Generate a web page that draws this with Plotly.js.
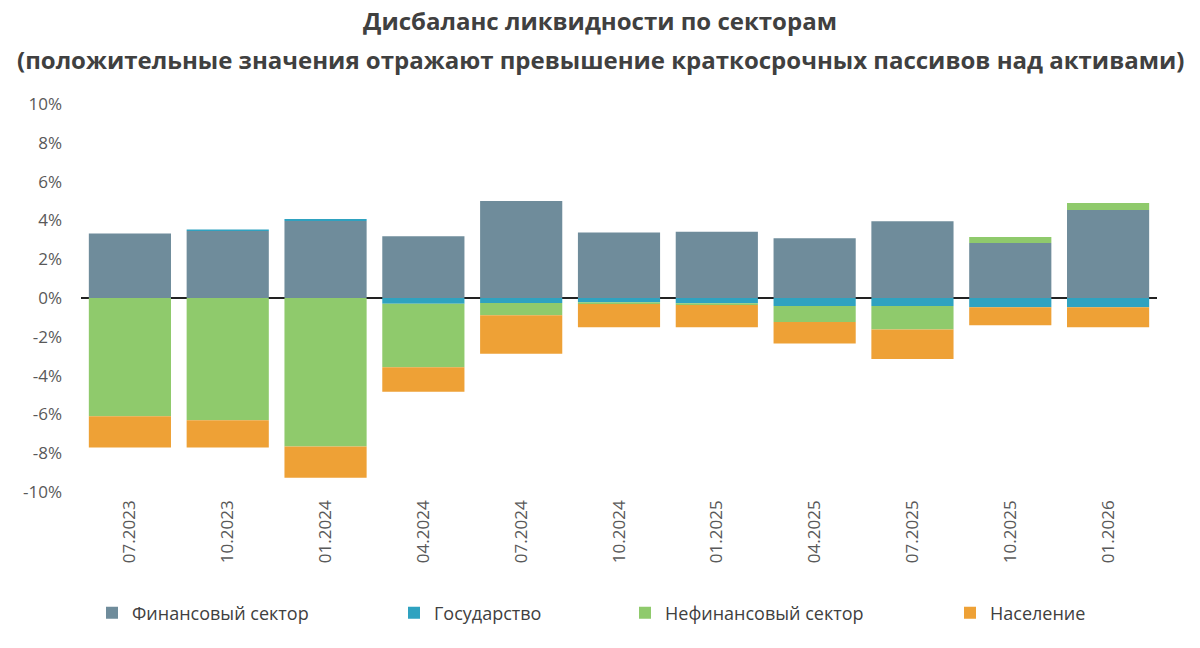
<!DOCTYPE html>
<html><head><meta charset="utf-8">
<script src="https://cdn.plot.ly/plotly-3.0.1.min.js"></script>
<style>html,body{margin:0;padding:0;background:#fff}#chart{width:1200px;height:648px}</style>
</head><body><div id="chart"></div>
<script>
const categories = ["07.2023","10.2023","01.2024","04.2024","07.2024","10.2024","01.2025","04.2025","07.2025","10.2025","01.2026"];
const financial = [3.32, 3.45, 3.97, 3.18, 5.0, 3.37, 3.42, 3.08, 3.95, 2.84, 4.54];
const government = [0.0, 0.08, 0.10, -0.29, -0.26, -0.22, -0.27, -0.41, -0.41, -0.48, -0.48];
const nonfinancial = [-6.1, -6.3, -7.66, -3.28, -0.63, -0.09, -0.09, -0.83, -1.22, 0.30, 0.36];
const households = [-1.6, -1.4, -1.6, -1.26, -1.98, -1.2, -1.15, -1.1, -1.51, -0.93, -1.03];
const yTickVals = [-10,-8,-6,-4,-2,0,2,4,6,8,10];
const yTickText = ["-10%","-8%","-6%","-4%","-2%","0%","2%","4%","6%","8%","10%"];
const names = ["Финансовый сектор","Государство","Нефинансовый сектор","Население"];
const colors = ["#6f8c9b","#2fa2c0","#8fca6c","#eea136"];
const series = [financial, government, nonfinancial, households];
const titleLine1 = "Дисбаланс ликвидности по секторам";
const titleLine2 = "(положительные значения отражают превышение краткосрочных пассивов над активами)";

const legendIds = ["legend","legend2","legend3","legend4"];
const legendX = [92, 394, 625, 950];

const traces = series.map((v,i)=>({
  type:"bar", x:categories, y:v, name:names[i], legend:legendIds[i],
  marker:{color:colors[i], line:{width:0}},
  hoverinfo:"x+y+name"
}));

const layout = {
  width:1200, height:648,
  paper_bgcolor:"#fff", plot_bgcolor:"#fff",
  barmode:"relative", bargap:0.16,
  font:{family:"Open Sans, sans-serif", color:"#595959"},
  title:{text:"<b>"+titleLine1+"</b>",
    xref:"container", yref:"container",
    x:0.5, xanchor:"center", y:1-22/648, yanchor:"middle",
    font:{family:"Open Sans, sans-serif", size:24, color:"#404040"}},
  annotations:[{text:"<b>"+titleLine2+"</b>", xref:"paper", yref:"paper",
    x:(600-81)/1076, y:(492-60)/388, xanchor:"center", yanchor:"middle", showarrow:false,
    font:{family:"Open Sans, sans-serif", size:24, color:"#404040"}}],
  margin:{l:81, r:43, t:104, b:156, autoexpand:false},
  xaxis:{type:"category", tickangle:-90, showgrid:false, showline:false, ticks:"",
    tickfont:{size:17, color:"#595959"}, ticklabelstandoff:4, automargin:false},
  yaxis:{range:[-10,10], tickvals:yTickVals, ticktext:yTickText, showgrid:false,
    zeroline:true, zerolinecolor:"#222", zerolinewidth:2, showline:false, ticks:"",
    tickfont:{size:17, color:"#595959"}, ticklabelstandoff:18, automargin:false},
  showlegend:true
};
legendIds.forEach((id,i)=>{
  layout[id] = {orientation:"h", xref:"container", yref:"container",
    x:legendX[i]/1200, xanchor:"left", y:1-613/648, yanchor:"middle",
    font:{size:18, color:"#404040"}, itemwidth:30, bgcolor:"rgba(0,0,0,0)"};
});
Plotly.newPlot("chart", traces, layout, {displayModeBar:false, staticPlot:true});
</script></body></html>
